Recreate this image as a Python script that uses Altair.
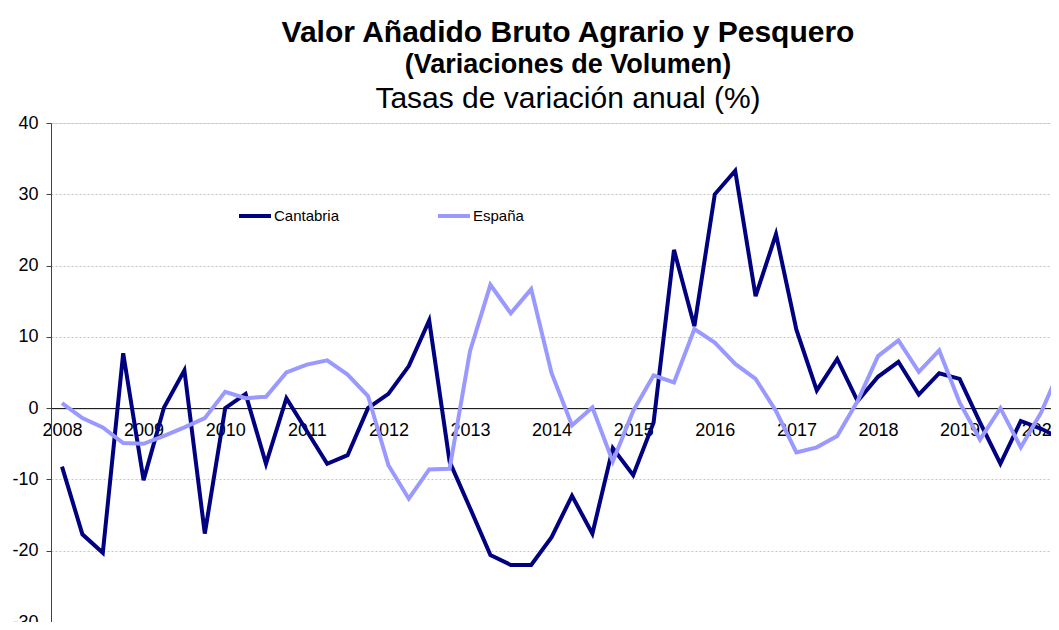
import altair as alt
import pandas as pd

# Quarterly index 0 = 2008 Q1
years = [2008, 2009, 2010, 2011, 2012, 2013, 2014, 2015, 2016, 2017, 2018, 2019, 2020]

cantabria = [-8.2, -17.7, -20.3, 7.7, -10.1, 0.1, 5.3, -17.6, 0.0, 2.0,
             -7.8, 1.4, -3.2, -7.8, -6.6, 0.0, 2.0, 5.9, 12.3, -7.5,
             -14.0, -20.6, -22.0, -22.0, -18.1, -12.3, -17.6, -5.6, -9.4, -2.0,
             22.2, 11.5, 30.0, 33.3, 15.7, 24.4, 11.0, 2.5, 6.9, 1.0,
             4.4, 6.5, 1.9, 4.9, 4.1, -2.0, -7.8, -1.8, -2.9, -4.3]

espana = [0.7, -1.4, -2.7, -4.9, -5.0, -3.9, -2.7, -1.4, 2.3, 1.4,
          1.6, 5.0, 6.1, 6.7, 4.7, 1.7, -8.0, -12.7, -8.6, -8.5,
          8.0, 17.3, 13.3, 16.7, 4.9, -2.4, 0.1, -7.5, -0.4, 4.6,
          3.6, 11.1, 9.2, 6.2, 4.1, -0.4, -6.2, -5.5, -3.9, 1.0,
          7.3, 9.5, 5.1, 8.1, 0.8, -4.4, 0.0, -5.5, -0.6, 6.0]

series_names = ["Cantabria", "España"]
series_colors = ["#000080", "#9999FF"]

title_1 = "Valor Añadido Bruto Agrario y Pesquero"
title_2 = "(Variaciones de Volumen)"
title_3 = "Tasas de variación anual (%)"

rows = []
for i, v in enumerate(cantabria):
    rows.append({"q": i, "valor": v, "serie": "Cantabria"})
for i, v in enumerate(espana):
    rows.append({"q": i, "valor": v, "serie": "España"})
df = pd.DataFrame(rows)

W, H = 1000, 499
FONT = "Liberation Sans"

x_scale = alt.Scale(domain=[-0.539, -0.539 + W / 20.4], nice=False, zero=False)
y_scale = alt.Scale(domain=[-30, 40], nice=False)
zero_offset = -(H * 30 / 70)

lines = alt.Chart(df).mark_line(strokeWidth=4, clip=True).encode(
    x=alt.X("q:Q", scale=x_scale,
            axis=alt.Axis(title=None, values=[4 * k for k in range(len(years))],
                          labelExpr="2008 + datum.value / 4",
                          ticks=False, tickSize=0, grid=False,
                          domainColor="#000000", domainWidth=1,
                          offset=zero_offset, labelPadding=13,
                          labelFontSize=18, labelFont=FONT, labelColor="#000000",
                          labelBaseline="top", labelFlush=False, labelOverlap=False)),
    y=alt.Y("valor:Q", scale=y_scale,
            axis=alt.Axis(title=None, values=list(range(-30, 41, 10)),
                          labelExpr="'' + datum.value",
                          grid=True, gridColor="#c4c4c4", gridDash=[2, 2], gridWidth=1,
                          domainColor="#404040", tickColor="#404040", tickSize=5,
                          labelFontSize=18, labelFont=FONT, labelColor="#000000",
                          labelPadding=8)),
    color=alt.Color("serie:N",
                    scale=alt.Scale(domain=series_names, range=series_colors),
                    legend=alt.Legend(title=None, orient="none", legendX=186, legendY=75,
                                      direction="horizontal", symbolType="stroke",
                                      symbolSize=1024, symbolStrokeWidth=4,
                                      labelFontSize=15, labelFont=FONT, labelColor="#000000",
                                      labelOffset=1, columnPadding=90, padding=0)),
    order=alt.Order("q:Q"),
)

def text_layer(txt, size, weight, ypix):
    return alt.Chart(pd.DataFrame({"t": [txt]})).mark_text(
        font=FONT, fontSize=size, fontWeight=weight, color="#000000",
        align="center", baseline="alphabetic"
    ).encode(text="t:N", x=alt.value(517), y=alt.value(ypix))

chart = alt.layer(
    lines,
    text_layer(title_1, 30, "bold", -81),
    text_layer(title_2, 27, "bold", -50),
    text_layer(title_3, 30, "normal", -15),
).properties(
    width=W, height=H,
    padding={"left": 43, "top": 115, "right": 0, "bottom": 0},
    autosize=alt.AutoSizeParams(type="none"),
).configure_view(stroke=None).configure(background="#ffffff")

chart.save("out.html", embed_options={"renderer": "svg", "actions": False})
